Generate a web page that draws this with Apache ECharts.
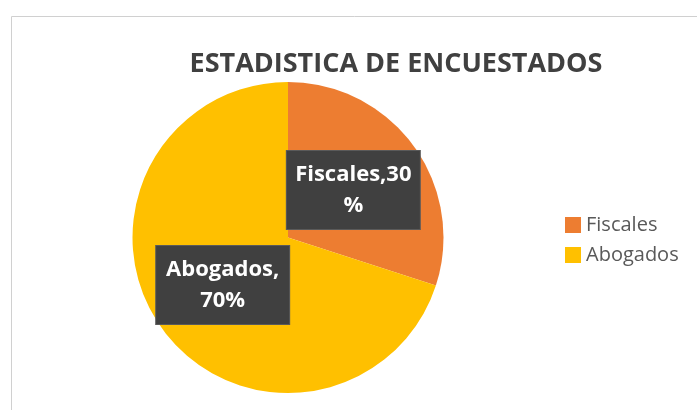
<!DOCTYPE html>
<html>
<head>
<meta charset="utf-8">
<script src="https://cdn.jsdelivr.net/npm/echarts@6/dist/echarts.min.js"></script>
<style>
  html, body { margin: 0; padding: 0; background: #fff; }
  #chart { width: 697px; height: 410px; }
</style>
</head>
<body>
<div id="chart"></div>
<script>
const titleText = 'ESTADISTICA DE ENCUESTADOS'
const categories = ['Fiscales', 'Abogados']
const values = [30, 70]
const colors = ['#ED7D31', '#FFC000']

const chart = echarts.init(document.getElementById('chart'))

const option = {
  animation: false,
  textStyle: { fontFamily: 'Open Sans' },
  title: {
    text: titleText,
    left: 391,
    top: 46,
    textAlign: 'center',
    textStyle: {
      fontFamily: 'Open Sans',
      fontSize: 27,
      fontWeight: 'bold',
      color: '#404040',
    },
  },
  legend: {
    data: categories,
    orient: 'vertical',
    left: 565,
    top: 215,
    padding: 0,
    itemWidth: 16,
    itemHeight: 16,
    itemGap: 10,
    icon: 'rect',
    textStyle: {
      fontFamily: 'Open Sans',
      fontSize: 20,
      color: '#595959',
    },
  },
  // light frame of the chart area
  graphic: [
    {
      type: 'rect',
      silent: true,
      shape: { x: 11.5, y: 16.5, width: 720, height: 420 },
      style: { fill: 'none', stroke: '#d0d0d0', lineWidth: 1 },
    },
  ],
  series: [
    {
      type: 'pie',
      center: [288, 237.5],
      radius: 155.5,
      startAngle: 90,
      clockwise: true,
      color: colors,
      itemStyle: { borderWidth: 0 },
      label: {
        show: true,
        position: 'inside',
        formatter: (p) => p.dataIndex === 0 ? `${p.name},${p.value}\n%` : `${p.name},\n${p.value}%`,
        fontFamily: 'Open Sans',
        fontSize: 22,
        fontWeight: 'bold',
        color: '#fff',
        lineHeight: 31,
        width: 119,
        align: 'center',
        backgroundColor: '#404040',
        borderColor: '#5a5a5a',
        borderWidth: 1,
        padding: [8, 7],
      },
      labelLine: { show: false },
      emphasis: { disabled: true },
      data: categories.map((name, i) => ({ name, value: values[i] })),
    },
  ],
}

chart.setOption(option)
</script>
</body>
</html>
